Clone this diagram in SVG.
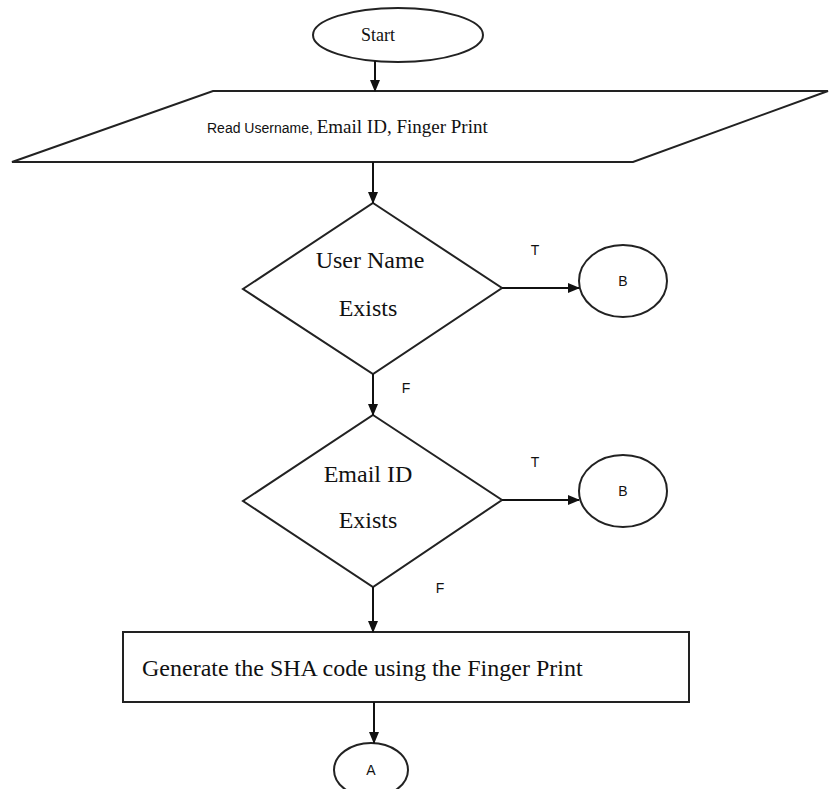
<svg xmlns="http://www.w3.org/2000/svg" width="829" height="789" viewBox="0 0 829 789">
<defs>
<marker id="ah" markerWidth="12" markerHeight="12" viewBox="0 0 12 12" refX="11" refY="6" orient="auto" markerUnits="userSpaceOnUse">
<path d="M0,1 L12,6 L0,11 Z" fill="#111"/>
</marker>
<style>
.shape{fill:#fff;stroke:#222;stroke-width:2}
.conn{stroke:#111;stroke-width:2;fill:none;marker-end:url(#ah)}
.serif{font-family:"Liberation Serif","Times New Roman",serif;font-size:24px;fill:#111}
.sans{font-family:"Liberation Sans",Arial,sans-serif;font-size:14px;fill:#111}
.lbl{font-family:"Liberation Sans",Arial,sans-serif;font-size:14px;fill:#111;text-anchor:middle}
</style>
</defs>
<rect width="829" height="789" fill="#fff"/>
<g id="start">
<ellipse class="shape" cx="398" cy="35" rx="85" ry="27"/>
<text class="serif" x="378" y="41" text-anchor="middle" style="font-size:18px">Start</text>
</g>
<g id="read">
<polygon class="shape" points="213,91 828,91 633,162 12,162"/>
<text x="207" y="133"><tspan class="sans">Read Username, </tspan><tspan class="serif" style="font-size:19px">Email ID, Finger Print</tspan></text>
</g>
<g id="d1">
<polygon class="shape" points="373,203 502,288 373,374 243,289"/>
<text class="serif" x="370" y="268" text-anchor="middle">User Name</text>
<text class="serif" x="368" y="316" text-anchor="middle">Exists</text>
</g>
<g id="b1">
<ellipse class="shape" cx="623" cy="281" rx="44" ry="36"/>
<text class="lbl" x="623" y="286">B</text>
</g>
<g id="d2">
<polygon class="shape" points="373,415 502,500 373,587 243,501"/>
<text class="serif" x="368" y="482" text-anchor="middle">Email ID</text>
<text class="serif" x="368" y="528" text-anchor="middle">Exists</text>
</g>
<g id="b2">
<ellipse class="shape" cx="623" cy="491" rx="44" ry="36"/>
<text class="lbl" x="623" y="496">B</text>
</g>
<g id="sha">
<rect class="shape" x="123" y="632" width="566" height="70"/>
<text class="serif" x="142" y="676">Generate the SHA code using the Finger Print</text>
</g>
<g id="a">
<ellipse class="shape" cx="371" cy="770" rx="37" ry="27"/>
<text class="lbl" x="371" y="775">A</text>
</g>
<g id="connectors">
<line class="conn" x1="375" y1="61" x2="375" y2="91"/>
<line class="conn" x1="373" y1="162" x2="373" y2="203"/>
<line class="conn" x1="502" y1="288" x2="579" y2="288"/>
<line class="conn" x1="373" y1="374" x2="373" y2="415"/>
<line class="conn" x1="502" y1="500" x2="579" y2="500"/>
<line class="conn" x1="373" y1="587" x2="373" y2="632"/>
<line class="conn" x1="374" y1="702" x2="374" y2="743"/>
<text class="lbl" x="535" y="255">T</text>
<text class="lbl" x="406" y="393">F</text>
<text class="lbl" x="535" y="467">T</text>
<text class="lbl" x="440" y="593">F</text>
</g>
</svg>
